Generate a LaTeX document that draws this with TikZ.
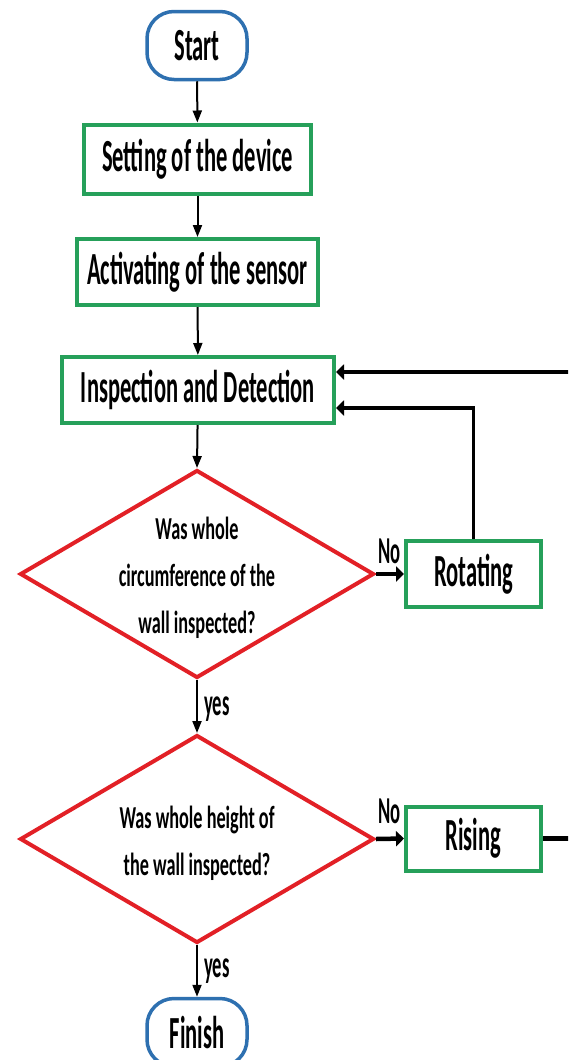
\documentclass[tikz,border=0pt]{standalone}
\usepackage{fontspec}
\setmainfont{Carlito}[FakeStretch=0.49]
\newfontfamily\dfont{Carlito}[FakeStretch=0.57]
\usetikzlibrary{shapes.geometric,arrows.meta}
\definecolor{bgreen}{RGB}{38,160,90}
\definecolor{bblue}{RGB}{46,112,176}
\definecolor{bred}{RGB}{226,32,38}
\begin{document}
\begin{tikzpicture}[x=1pt,y=-1pt,
  bigtext/.style={font=\bfseries\fontsize{46}{52}\selectfont},
  stepbox/.style={draw=bgreen, line width=4pt, inner sep=0pt, fill=white, bigtext},
  termbox/.style={draw=bblue, line width=3.5pt, rounded corners=27pt, inner sep=0pt, fill=white,
     minimum width=100pt, minimum height=68pt, bigtext},
  decbox/.style={draw=bred, line width=4pt, diamond, inner sep=0pt, minimum width=354pt, minimum height=208pt},
  dectext/.style={font=\dfont\bfseries\fontsize{32}{47}\selectfont, align=center, inner sep=0pt},
  lbl/.style={font=\bfseries\fontsize{38}{42}\selectfont, inner sep=0pt},
  thinarrow/.style={draw=black, line width=2pt, -{Triangle[length=12pt,width=9pt]}},
  thickarrow/.style={draw=black, line width=4.5pt, -{Triangle[length=8pt,width=15pt]}},
  vline/.style={draw=black, line width=2.5pt}
]
\useasboundingbox (0,0) rectangle (568,1060);
\clip (0,0) rectangle (568,1060);

\node[termbox] (start) at (197,45.5) {Start};
\node[stepbox, minimum width=227pt, minimum height=69pt] (setting) at (197.5,159) {Setting of the device};
\node[stepbox, minimum width=241pt, minimum height=66pt] (activ) at (197.5,272) {Activating of the sensor};
\node[stepbox, minimum width=272pt, minimum height=66pt] (insp) at (198,390) {Inspection and Detection};
\node[decbox] (d1) at (197,574) {};
\node[dectext] (d1t) at (197,578) {Was whole\\circumference of the\\wall inspected?};
\node[stepbox, minimum width=135pt, minimum height=66pt] (rot) at (473.5,574) {Rotating};
\node[decbox] (d2) at (197,839) {};
\node[dectext] (d2t) at (197,843) {Was whole height of\\the wall inspected?};
\node[stepbox, minimum width=135pt, minimum height=64pt] (rise) at (473.5,838.5) {Rising};
\node[termbox] (finish) at (197,1032.5) {Finish};

\coordinate (rcorner) at (473.5,408);
\coordinate (riseout) at (575,838.5);
\coordinate (loopin) at (575,372);

\draw[thinarrow] (start) -- (setting);
\draw[thinarrow] (setting) -- (activ);
\draw[thinarrow] (activ) -- (insp);
\draw[thinarrow] (insp) -- (d1.north);
\draw[thinarrow] (d1.south) -- (d2.north);
\draw[thinarrow] (d2.south) -- (finish);
\draw[thickarrow] (d1.east) -- (rot.west);
\draw[thickarrow] (d2.east) -- (rise.west);
\draw[vline] (rot.north) -- (rcorner);
\draw[thickarrow] ([xshift=1.2pt]rcorner) -- (insp.east |- rcorner);
\draw[thickarrow] (loopin) -- (insp.east |- loopin);
\draw[line width=4.5pt] (rise.east) -- (riseout);

\node[lbl, anchor=base west] (no1) at (378,563) {No};
\node[lbl, anchor=base west] (no2) at (378,823) {No};
\node[lbl, anchor=base west] (yes1) at (204,715) {yes};
\node[lbl, anchor=base west] (yes2) at (204,977) {yes};
\end{tikzpicture}
\end{document}
